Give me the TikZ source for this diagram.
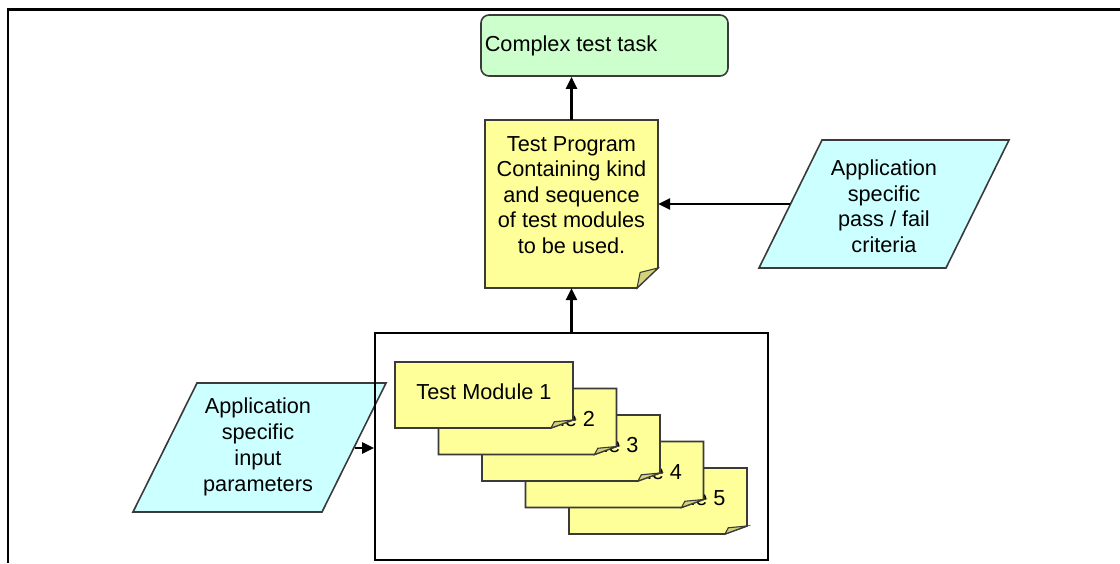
\documentclass[tikz,border=0pt]{standalone}
\usepackage{fontspec}
\setmainfont{Liberation Sans}
\usetikzlibrary{arrows.meta}

\definecolor{taskgreen}{HTML}{CCFFCC}
\definecolor{noteyellow}{HTML}{FFFF99}
\definecolor{foldyellow}{HTML}{D2D27A}
\definecolor{datacyan}{HTML}{CCFFFF}
\definecolor{edgegray}{HTML}{3A3A3A}

\tikzset{
  lbl/.style={font=\fontsize{21.7}{25.5}\selectfont, align=center, inner sep=0pt, text=black},
  outline/.style={draw=edgegray, line width=1.6pt, line join=miter},
  flow/.style={draw=black, line width=2.5pt, -{Triangle[length=12pt,width=11pt]}},
  frame/.style={draw=black, line width=2.6pt},
}

% Note card with a folded bottom-right corner:
% #1 name, #2 left, #3 top, #4 right, #5 bottom, #6 fold width, #7 fold height,
% #8 text centre y, #9 text
\newcommand\notecard[9]{%
  \filldraw[outline, fill=noteyellow] (#2,#3) -- (#4,#3) -- (#4,#5-#7) -- (#4-#6,#5) -- (#2,#5) -- cycle;
  \filldraw[outline, fill=foldyellow, line width=1.1pt]
    (#4-#6,#5) -- (#4,#5-#7) -- (#4-0.85*#6,#5-0.78*#7) -- cycle;
  \node[inner sep=0pt, minimum width={(#4-#2)*1pt}, minimum height={(#5-#3)*1pt}]
    (#1) at ({(#2+#4)/2},{(#3+#5)/2}) {};
  \node[lbl] at ({(#2+#4)/2},#8) {#9};
}

\begin{document}
\begin{tikzpicture}[x=1pt, y=-1pt]
\useasboundingbox (0,0) rectangle (1120,563);

% page frame (top and left edges)
\draw[frame] (8,563) -- (8,9.2) -- (1120,9.2);

% top-level task
\node[outline, fill=taskgreen, rounded corners=8pt, minimum width=247pt, minimum height=61pt, inner sep=0pt]
  (task) at (604.5,45.5) {};
\node[lbl] (tasktext) at (571,46) {Complex test task};

% test program note
\notecard{prog}{485}{120}{658}{288}{21}{20}{195}{Test Program\\Containing kind\\and sequence\\of test modules\\to be used.}

% pass / fail criteria (data parallelogram)
\filldraw[outline, fill=datacyan] (822,140) -- (1009,140) -- (946,268) -- (759,268) -- cycle;
\node[lbl] (crit) at (884,206) {Application\\specific\\pass / fail\\criteria};
\coordinate (crit-in) at (790,204);

% input parameters (data parallelogram)
\filldraw[outline, fill=datacyan] (197,383) -- (386,383) -- (322,512) -- (133,512) -- cycle;
\node[lbl, font=\fontsize{21.7}{26}\selectfont] (inp) at (258,446.5) {Application\\specific\\input\\parameters};
\coordinate (inp-out) at (355,448);

% container of the test modules
\node[draw=black, line width=2pt, minimum width=393pt, minimum height=227pt, inner sep=0pt]
  (modbox) at (571.5,446.5) {};

% stacked test modules, back to front
\notecard{mod5}{569}{468}{747}{534}{22}{8}{498}{Test Module 5}
\notecard{mod4}{525.5}{441.5}{703.5}{507.5}{22}{8}{471.5}{Test Module 4}
\notecard{mod3}{482}{415}{660}{481}{22}{8}{445}{Test Module 3}
\notecard{mod2}{438.5}{388.5}{616.5}{454.5}{22}{8}{418.5}{Test Module 2}
\notecard{mod1}{395}{362}{573}{428}{22}{8}{392}{Test Module 1}

% connectors
\draw[flow] (prog.north) -- (prog.north |- task.south);
\draw[flow] (modbox.north) -- (modbox.north |- prog.south);
\draw[flow] (crit-in) -- (crit-in -| prog.east);
\draw[flow] (inp-out) -- (inp-out -| modbox.west);
\end{tikzpicture}
\end{document}
